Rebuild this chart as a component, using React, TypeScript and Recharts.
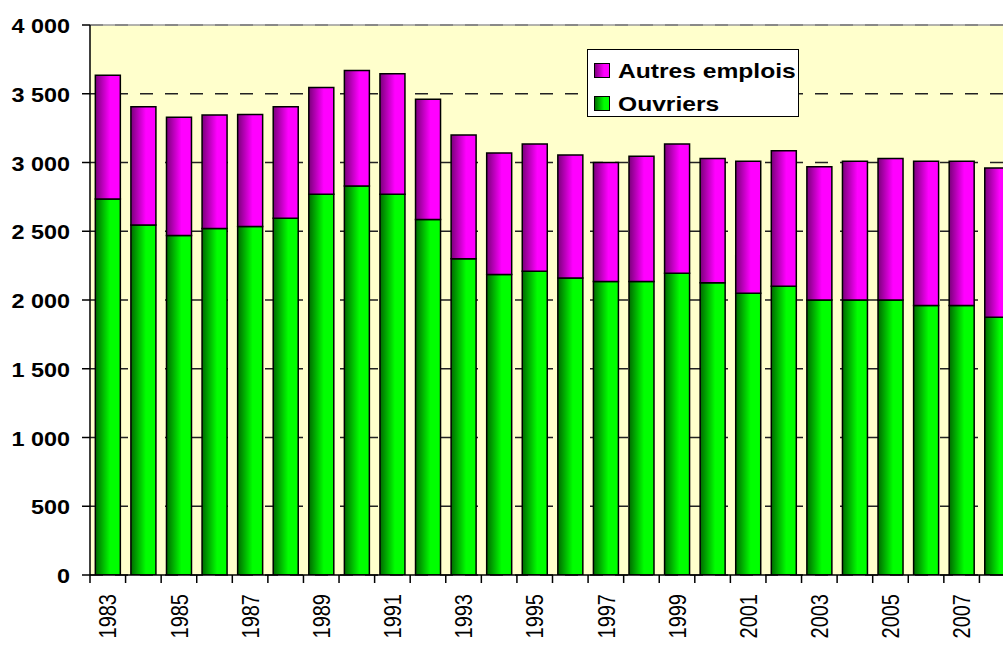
import React from 'react';
import { BarChart, Bar, XAxis, YAxis, CartesianGrid, Legend, ReferenceLine } from 'recharts';

const years = ['1983','1984','1985','1986','1987','1988','1989','1990','1991','1992','1993','1994','1995','1996','1997','1998','1999','2000','2001','2002','2003','2004','2005','2006','2007','2008'];
const ouvriers = [2735, 2545, 2470, 2520, 2535, 2595, 2770, 2830, 2770, 2585, 2300, 2185, 2210, 2160, 2135, 2135, 2195, 2125, 2050, 2100, 2000, 2000, 2000, 1960, 1960, 1875];
const autres = [900, 860, 860, 825, 815, 810, 775, 840, 875, 875, 900, 885, 925, 895, 865, 910, 940, 905, 960, 985, 970, 1010, 1030, 1050, 1050, 1085];
const yTicks = [0, 500, 1000, 1500, 2000, 2500, 3000, 3500, 4000];
const seriesNames = { ouvriers: 'Ouvriers', autres: 'Autres emplois' };

const data = years.map((y, i) => ({ year: y, ouvriers: ouvriers[i], autres: autres[i] }));

const FONT = '"Liberation Sans", Arial, Helvetica, sans-serif';
const CHART_W = 1015;
const CHART_H = 649;
const MARGIN = { top: 25, right: 0, bottom: 0, left: 10 };
const YAXIS_W = 80;
const PLOT_W = CHART_W - MARGIN.left - MARGIN.right - YAXIS_W;
const BAND = PLOT_W / years.length;

const fmt = (v: number) =>
  v >= 1000 ? `${Math.floor(v / 1000)}\u00a0${String(v % 1000).padStart(3, '0')}` : String(v);

const YTick = (props: any) => {
  const { x, y, payload } = props;
  return (
    <text
      transform={`translate(${x},${y}) scale(1.2,1)`}
      textAnchor="end"
      dy="0.42em"
      fontSize={19.5}
      fontWeight="bold"
      fontFamily={FONT}
      fill="#000"
    >
      {fmt(payload.value)}
    </text>
  );
};

const XTick = (props: any) => {
  const { x, y, payload, index } = props;
  const half = BAND / 2;
  const isOdd = Number(payload.value) % 2 === 1;
  return (
    <g>
      <line x1={x - half} x2={x - half} y1={y} y2={y + 8} stroke="#000" strokeWidth={1.5} />
      {index === years.length - 1 && (
        <line x1={x + half} x2={x + half} y1={y} y2={y + 8} stroke="#000" strokeWidth={1.5} />
      )}
      {isOdd && (
        <text
          transform={`translate(${x},${y + 19}) scale(1.2,1) rotate(-90)`}
          textAnchor="end"
          dy="0.36em"
          fontSize={20}
          fontFamily={FONT}
          fill="#000"
        >
          {payload.value}
        </text>
      )}
    </g>
  );
};

const swatchBg: Record<string, string> = {
  autres: 'linear-gradient(to right, #800080, #ff00ff 65%, #ff00ff)',
  ouvriers: 'linear-gradient(to right, #007000, #00ff00 65%, #00ff00)',
};

const LegendBox = () => {
  const items = [
    { key: 'autres', label: seriesNames.autres },
    { key: 'ouvriers', label: seriesNames.ouvriers },
  ];
  return (
    <div
      style={{
        width: 212,
        height: 68,
        boxSizing: 'border-box',
        border: '1.5px solid #000',
        background: '#fff',
        paddingTop: 11,
        paddingLeft: 6,
        fontFamily: FONT,
      }}
    >
      {items.map((it, i) => (
        <div
          key={it.key}
          style={{ display: 'flex', alignItems: 'center', height: 19, marginTop: i === 0 ? 0 : 14 }}
        >
          <div
            style={{
              width: 16,
              height: 15,
              boxSizing: 'border-box',
              border: '1.5px solid #000',
              background: swatchBg[it.key],
              flex: 'none',
            }}
          />
          <div
            style={{
              marginLeft: 8,
              fontSize: 20.5,
              fontWeight: 'bold',
              color: '#000',
              transform: 'scaleX(1.2)',
              transformOrigin: 'left center',
              whiteSpace: 'nowrap',
              lineHeight: '19px',
            }}
          >
            {it.label}
          </div>
        </div>
      ))}
    </div>
  );
};

export default function App() {
  return (
    <div
      style={{
        position: 'fixed',
        left: 0,
        top: 0,
        width: 1003,
        height: 649,
        overflow: 'hidden',
        background: '#fff',
      }}
    >
      <BarChart width={CHART_W} height={CHART_H} data={data} margin={MARGIN} barCategoryGap="15%">
        <defs>
          <linearGradient id="gGreen" x1="0" y1="0" x2="1" y2="0">
            <stop offset="0%" stopColor="#006a00" />
            <stop offset="60%" stopColor="#00ff00" />
            <stop offset="100%" stopColor="#00ff00" />
          </linearGradient>
          <linearGradient id="gMagenta" x1="0" y1="0" x2="1" y2="0">
            <stop offset="0%" stopColor="#7a007a" />
            <stop offset="60%" stopColor="#ff00ff" />
            <stop offset="100%" stopColor="#ff00ff" />
          </linearGradient>
        </defs>
        <CartesianGrid
          vertical={false}
          stroke="#222"
          strokeWidth={1.5}
          strokeDasharray="13 12"
          fill="#ffffcc"
          fillOpacity={1}
        />
        <ReferenceLine y={4000} stroke="#9a9a9a" strokeWidth={1.5} />
        <XAxis
          dataKey="year"
          interval={0}
          height={74}
          tickLine={false}
          tickSize={0}
          tickMargin={0}
          axisLine={{ stroke: '#000', strokeWidth: 1.5 }}
          tick={<XTick />}
        />
        <YAxis
          width={YAXIS_W}
          domain={[0, 4000]}
          ticks={yTicks}
          interval={0}
          tickSize={8}
          tickMargin={12}
          tickLine={{ stroke: '#000', strokeWidth: 1.5 }}
          axisLine={{ stroke: '#000', strokeWidth: 1.5 }}
          tick={<YTick />}
          allowDataOverflow
        />
        <Legend
          content={<LegendBox />}
          verticalAlign="top"
          wrapperStyle={{ position: 'absolute', left: 587, top: 49, width: 212, height: 0, overflow: 'visible' }}
        />
        <Bar
          dataKey="ouvriers"
          name={seriesNames.ouvriers}
          stackId="a"
          fill="url(#gGreen)"
          stroke="#000"
          strokeWidth={1.5}
          isAnimationActive={false}
        />
        <Bar
          dataKey="autres"
          name={seriesNames.autres}
          stackId="a"
          fill="url(#gMagenta)"
          stroke="#000"
          strokeWidth={1.5}
          isAnimationActive={false}
        />
      </BarChart>
    </div>
  );
}
